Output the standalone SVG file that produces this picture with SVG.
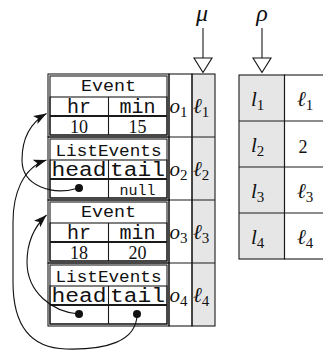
<svg xmlns="http://www.w3.org/2000/svg" width="323" height="354" viewBox="0 0 323 354">
<style>
.ln{fill:none;stroke:#1a1a1a;stroke-width:1.1}
.gray{fill:#e6e6e6;stroke:#1a1a1a;stroke-width:1.1}
.hdr{stroke:#1a1a1a;stroke-width:2.2}
.tt{font-family:"Liberation Mono",monospace;fill:#111}
.ti{font-size:17px}
.hd{font-size:20px}
.val{font-family:"Liberation Serif",serif;font-size:18px;fill:#111}
.nul{font-size:15px}
.m{font-family:"Liberation Serif",serif;font-style:italic;font-size:21px;fill:#111}
.sub{font-style:normal;font-size:15px}
.gk{font-family:"Liberation Serif",serif;font-style:italic;font-size:24px;fill:#111}
.con{fill:none;stroke:#111;stroke-width:1.1}
.dot{fill:#111}
.tri{fill:#fff;stroke:#111;stroke-width:1.1}
</style>
<defs>
<marker id="ah" markerUnits="userSpaceOnUse" markerWidth="14" markerHeight="10" refX="13" refY="4.5" orient="auto">
<path d="M0,0 L13,4.5 L0,9 L3,4.5 z" fill="#111"/>
</marker>
</defs>

<g id="mu">
<text x="202" y="21" text-anchor="middle" class="gk">μ</text>
<line x1="203" y1="28" x2="203" y2="58" class="ln"/>
<polygon points="194,58 212,58 203,72.5" class="tri"/>
</g>
<g id="rho">
<text x="262" y="21" text-anchor="middle" class="gk">ρ</text>
<line x1="262" y1="28" x2="262" y2="58" class="ln"/>
<polygon points="253,58 271,58 262,72.5" class="tri"/>
</g>

<g id="mu-column">
<rect x="192" y="74" width="23" height="252" class="gray"/>
<line x1="169" y1="137" x2="215" y2="137" class="ln"/>
<line x1="169" y1="200" x2="215" y2="200" class="ln"/>
<line x1="169" y1="263" x2="215" y2="263" class="ln"/>
<rect x="169" y="74" width="23" height="252" class="ln"/>
</g>

<g id="o1">
<rect x="48" y="74" width="121" height="63" class="ln"/>
<rect x="50" y="76" width="117" height="59" class="ln"/>
<text x="108.5" y="91" text-anchor="middle" class="tt ti" textLength="55" lengthAdjust="spacingAndGlyphs">Event</text>
<rect x="50" y="97" width="117" height="38" class="ln"/>
<line x1="108.5" y1="97" x2="108.5" y2="135" class="ln"/>
<line x1="50" y1="116" x2="167" y2="116" class="hdr"/>
<text x="79" y="112.5" text-anchor="middle" class="tt hd">hr</text>
<text x="137.5" y="112.5" text-anchor="middle" class="tt hd">min</text>
<text x="79" y="133" text-anchor="middle" class="val">10</text>
<text x="137.5" y="133" text-anchor="middle" class="val">15</text>
<text x="169.5" y="113" class="m">o<tspan class="sub" dy="4">1</tspan></text>
<text x="193" y="113" class="m">ℓ<tspan class="sub" dy="4">1</tspan></text>
</g>

<g id="o2">
<rect x="48" y="137" width="121" height="63" class="ln"/>
<rect x="50" y="139" width="117" height="59" class="ln"/>
<text x="108.5" y="155.5" text-anchor="middle" class="tt ti" textLength="106" lengthAdjust="spacingAndGlyphs">ListEvents</text>
<rect x="50" y="160" width="117" height="38" class="ln"/>
<line x1="108.5" y1="160" x2="108.5" y2="198" class="ln"/>
<line x1="50" y1="179" x2="167" y2="179" class="hdr"/>
<text x="79" y="176" text-anchor="middle" class="tt hd" textLength="55" lengthAdjust="spacingAndGlyphs">head</text>
<text x="137.5" y="176" text-anchor="middle" class="tt hd" textLength="55" lengthAdjust="spacingAndGlyphs">tail</text>
<text x="137.5" y="194.5" text-anchor="middle" class="tt nul">null</text>
<text x="169.5" y="176" class="m">o<tspan class="sub" dy="4">2</tspan></text>
<text x="193" y="176" class="m">ℓ<tspan class="sub" dy="4">2</tspan></text>
</g>

<g id="o3">
<rect x="48" y="200" width="121" height="63" class="ln"/>
<rect x="50" y="202" width="117" height="59" class="ln"/>
<text x="108.5" y="217" text-anchor="middle" class="tt ti" textLength="55" lengthAdjust="spacingAndGlyphs">Event</text>
<rect x="50" y="223" width="117" height="38" class="ln"/>
<line x1="108.5" y1="223" x2="108.5" y2="261" class="ln"/>
<line x1="50" y1="242" x2="167" y2="242" class="hdr"/>
<text x="79" y="238.5" text-anchor="middle" class="tt hd">hr</text>
<text x="137.5" y="238.5" text-anchor="middle" class="tt hd">min</text>
<text x="79" y="259" text-anchor="middle" class="val">18</text>
<text x="137.5" y="259" text-anchor="middle" class="val">20</text>
<text x="169.5" y="239" class="m">o<tspan class="sub" dy="4">3</tspan></text>
<text x="193" y="239" class="m">ℓ<tspan class="sub" dy="4">3</tspan></text>
</g>

<g id="o4">
<rect x="48" y="263" width="121" height="63" class="ln"/>
<rect x="50" y="265" width="117" height="59" class="ln"/>
<text x="108.5" y="281.5" text-anchor="middle" class="tt ti" textLength="106" lengthAdjust="spacingAndGlyphs">ListEvents</text>
<rect x="50" y="286" width="117" height="38" class="ln"/>
<line x1="108.5" y1="286" x2="108.5" y2="324" class="ln"/>
<line x1="50" y1="305" x2="167" y2="305" class="hdr"/>
<text x="79" y="302" text-anchor="middle" class="tt hd" textLength="55" lengthAdjust="spacingAndGlyphs">head</text>
<text x="137.5" y="302" text-anchor="middle" class="tt hd" textLength="55" lengthAdjust="spacingAndGlyphs">tail</text>
<text x="169.5" y="302" class="m">o<tspan class="sub" dy="4">4</tspan></text>
<text x="193" y="302" class="m">ℓ<tspan class="sub" dy="4">4</tspan></text>
</g>

<g id="rho-table">
<rect x="239" y="75" width="45.5" height="184" class="gray"/>
<rect x="284.5" y="75" width="45" height="184" class="ln"/>
<line x1="239" y1="121" x2="330" y2="121" class="ln"/>
<line x1="239" y1="167" x2="330" y2="167" class="ln"/>
<line x1="239" y1="213" x2="330" y2="213" class="ln"/>
<text x="251" y="106" class="m">l<tspan class="sub" dy="4">1</tspan></text>
<text x="297" y="106" class="m">ℓ<tspan class="sub" dy="4">1</tspan></text>
<text x="251" y="152" class="m">l<tspan class="sub" dy="4">2</tspan></text>
<text x="303" y="153" text-anchor="middle" class="val">2</text>
<text x="251" y="198" class="m">l<tspan class="sub" dy="4">3</tspan></text>
<text x="297" y="198" class="m">ℓ<tspan class="sub" dy="4">3</tspan></text>
<text x="251" y="244" class="m">l<tspan class="sub" dy="4">4</tspan></text>
<text x="297" y="244" class="m">ℓ<tspan class="sub" dy="4">4</tspan></text>
</g>

<g id="connectors">
<path d="M79,188 C52,196 22,186 22,160 C22,140 30,123 46.5,113.5" class="con" marker-end="url(#ah)"/>
<path d="M137,314 C137,342 105,350 66,349 C28,348 13,322 13,282 L13,222 C13,195 22,168 46.5,160" class="con" marker-end="url(#ah)"/>
<path d="M79,314 C52,312 27,292 27,262 C27,243 33,228 46.5,215" class="con" marker-end="url(#ah)"/>
<circle cx="79" cy="188" r="4" class="dot"/>
<circle cx="79" cy="314" r="4" class="dot"/>
<circle cx="137" cy="314" r="4" class="dot"/>
</g>
</svg>
